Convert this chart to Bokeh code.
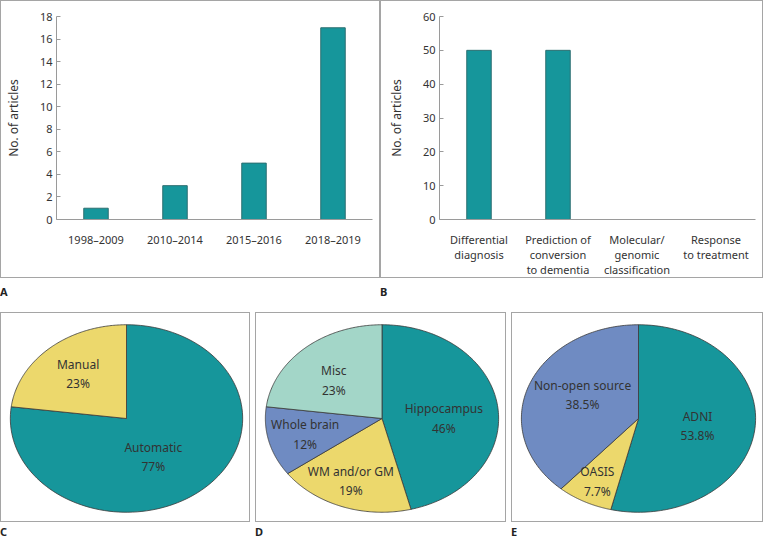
import numpy as np
from bokeh.plotting import figure
from bokeh.models import FactorRange, Range1d, FixedTicker, Div, ColumnDataSource
from bokeh.layouts import row, column
from bokeh.embed import file_html
from bokeh.resources import INLINE
from bokeh.core.properties import value

# ---------------- data ----------------
A_CATS = ["1998\u20132009", "2010\u20132014", "2015\u20132016", "2018\u20132019"]
A_VALS = [1, 3, 5, 17]
A_YTICKS = [0, 2, 4, 6, 8, 10, 12, 14, 16, 18]

B_CATS = ["Differential\ndiagnosis", "Prediction of\nconversion\nto dementia",
          "Molecular/\ngenomic\nclassification", "Response\nto treatment"]
B_VALS = [50, 50, 0, 0]
B_YTICKS = [0, 10, 20, 30, 40, 50, 60]

C_NAMES = ["Automatic", "Manual"]
C_PCT = [77, 23]

D_NAMES = ["Hippocampus", "WM and/or GM", "Whole brain", "Misc"]
D_PCT = [46, 19, 12, 23]

E_NAMES = ["ADNI", "OASIS", "Non-open source"]
E_PCT = [53.8, 7.7, 38.5]

Y_LABEL = "No. of articles"
PANEL_LETTERS = ["A", "B", "C", "D", "E"]

# ---------------- styles ----------------
TEAL = "#16969b"
YELLOW = "#ecd86c"
BLUE = "#6f8bc2"
MINT = "#a3d6c8"
BAR_EDGE = "#2d6f71"
AXIS_GREY = "#9a9a9a"
TXT = "#333333"
FONT = "Noto Sans"
BOX = {"border": "1px solid #a5a5a5"}

C_COLORS = [TEAL, YELLOW]
D_COLORS = [TEAL, YELLOW, BLUE, MINT]
E_COLORS = [TEAL, YELLOW, BLUE]
# label placement (radius factor, angle offset in degrees)
C_LAB = [(0.47, -12), (0.63, 0)]
D_LAB = [(0.53, -7), (0.72, -2), (0.68, 0), (0.58, 4)]
E_LAB = [(0.51, -2), (0.76, 0), (0.54, -7)]


def bar_panel(cats, vals, yticks, w, h, ml, mr, mt, mb):
    p = figure(x_range=FactorRange(factors=cats), y_range=Range1d(yticks[0], yticks[-1]),
               width=w, height=h, output_backend="svg", toolbar_location=None,
               min_border_left=ml, min_border_right=mr, min_border_top=mt,
               min_border_bottom=mb, styles=BOX)
    p.vbar(x=cats, top=vals, width=0.31, fill_color=TEAL, line_color=BAR_EDGE, line_width=1)
    p.xgrid.grid_line_color = None
    p.ygrid.grid_line_color = None
    p.outline_line_color = None
    p.yaxis.ticker = FixedTicker(ticks=yticks)
    for ax in (p.xaxis[0], p.yaxis[0]):
        ax.axis_line_color = AXIS_GREY
        ax.major_label_text_font = FONT
        ax.major_label_text_font_size = "11px"
        ax.major_label_text_color = TXT
        ax.minor_tick_line_color = None
    p.xaxis.major_tick_line_color = None
    p.xaxis.major_label_standoff = 6
    p.xaxis.major_label_text_line_height = 1.0
    p.yaxis.major_tick_in = 4
    p.yaxis.major_tick_out = 0
    p.yaxis.major_tick_line_color = AXIS_GREY
    p.yaxis.major_label_standoff = 4
    p.yaxis.axis_label = Y_LABEL
    p.yaxis.axis_label_text_font = FONT
    p.yaxis.axis_label_text_font_size = "12px"
    p.yaxis.axis_label_text_font_style = "normal"
    p.yaxis.axis_label_text_color = TXT
    p.yaxis.axis_label_standoff = 15
    return p


def pie_panel(names, pct, colors, labpos, w, h, hx, hy):
    p = figure(x_range=Range1d(-hx, hx), y_range=Range1d(-hy, hy), width=w, height=h,
               output_backend="svg", toolbar_location=None, min_border=0,
               x_axis_location=None, y_axis_location=None, styles=BOX)
    p.grid.grid_line_color = None
    p.outline_line_color = None
    cum = np.concatenate([[0], np.cumsum(pct)]) / np.sum(pct)
    xs, ys, lx, ly, txt = [], [], [], [], []
    for i in range(len(pct)):
        a0 = np.pi / 2 - 2 * np.pi * cum[i]
        a1 = np.pi / 2 - 2 * np.pi * cum[i + 1]
        t = np.linspace(a0, a1, 120)
        xs.append(list(np.concatenate([[0], np.cos(t)])))
        ys.append(list(np.concatenate([[0], np.sin(t)])))
        r, off = labpos[i]
        am = (a0 + a1) / 2 + np.deg2rad(off)
        lx.append(r * np.cos(am))
        ly.append(r * np.sin(am))
        txt.append(f"{names[i]}\n{pct[i]:g}%")
    p.patches(xs, ys, fill_color=colors, line_color="#3a3a3a", line_width=0.8)
    src = ColumnDataSource(dict(x=lx, y=ly, t=txt))
    p.text(x="x", y="y", text="t", source=src, text_align="center", text_baseline="middle",
           text_font=value(FONT), text_font_size="12px", text_color=TXT, text_line_height=1.15)
    return p


def letter(t, w, h, pad):
    return Div(text=t, width=w, height=h, margin=0,
               styles={"font-family": FONT, "font-weight": "bold", "font-size": "11px",
                       "color": "#222", "padding-top": f"{pad}px", "line-height": "1"})


pA = bar_panel(A_CATS, A_VALS, A_YTICKS, 380, 278, 53, 9, 15, 47)
pB = bar_panel(B_CATS, B_VALS, B_YTICKS, 383, 278, 58, 9, 15, 47)
pC = pie_panel(C_NAMES, C_PCT, C_COLORS, C_LAB, 250, 210, 1.076, 1.12)
pD = pie_panel(D_NAMES, D_PCT, D_COLORS, D_LAB, 251, 210, 1.076, 1.12)
pE = pie_panel(E_NAMES, E_PCT, E_COLORS, E_LAB, 252, 210, 1.076, 1.12)

top = row(pA, pB, spacing=0)
lab1 = row(letter(PANEL_LETTERS[0], 380, 34, 8), letter(PANEL_LETTERS[1], 383, 34, 8))
bot = row(pC, pD, pE, spacing=5)
lab2 = row(letter(PANEL_LETTERS[2], 255, 14, 4), letter(PANEL_LETTERS[3], 256, 14, 4),
           letter(PANEL_LETTERS[4], 252, 14, 4))
layout = column(top, lab1, bot, lab2)

open("out.html", "w").write(file_html(layout, INLINE))
